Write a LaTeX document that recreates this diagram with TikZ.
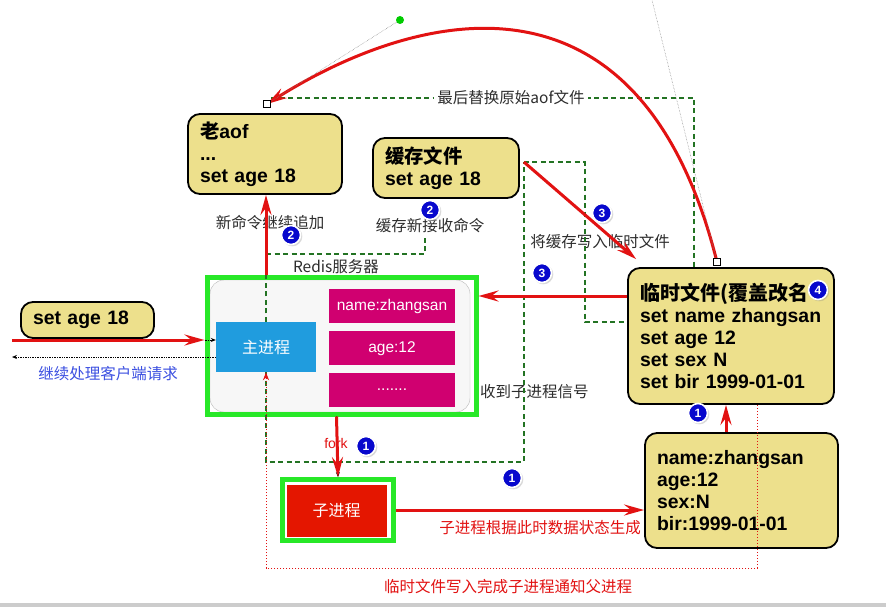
\documentclass[tikz,border=0pt]{standalone}
\usepackage{fontspec}
\setmainfont{Liberation Sans}
\newfontfamily\cjk{Noto Sans CJK SC}
\usepackage{tikz}
\usetikzlibrary{arrows.meta, positioning, shadows}

\definecolor{filekhaki}{RGB}{237,224,140}
\definecolor{framegreen}{RGB}{40,232,40}
\definecolor{dashgreen}{RGB}{35,115,35}
\definecolor{arrred}{RGB}{226,18,18}
\definecolor{procblue}{RGB}{32,156,222}
\definecolor{cellpink}{RGB}{208,0,112}
\definecolor{childred}{RGB}{228,22,0}
\definecolor{badgeblue}{RGB}{8,8,205}
\definecolor{notegray}{RGB}{45,45,45}
\definecolor{replyblue}{RGB}{60,80,225}

\newcommand{\zh}[1]{{\cjk #1}}

\begin{document}
\begin{tikzpicture}[x=1pt, y=-1pt,
  file/.style={
    rectangle, rounded corners=12pt, draw=black, line width=1.8pt, fill=filekhaki,
    align=left, inner xsep=12pt, inner ysep=4pt,
    font=\fontsize{19.4}{22}\selectfont\bfseries
  },
  server/.style={
    rectangle, rounded corners=14pt, draw=gray!55, fill=gray!6,
    minimum width=260pt, minimum height=132pt
  },
  frame/.style={rectangle, draw=framegreen, line width=5pt, inner sep=0pt},
  proc/.style={
    rectangle, fill=procblue, minimum width=100pt, minimum height=50pt,
    font=\cjk\fontsize{16}{16}\selectfont, text=white
  },
  cell/.style={
    rectangle, fill=cellpink, minimum width=126pt, minimum height=34pt,
    font=\fontsize{15.5}{16}\selectfont, text=white
  },
  child/.style={
    rectangle, fill=childred, draw=white, line width=0.8pt,
    minimum width=101pt, minimum height=53pt,
    font=\cjk\fontsize{16}{16}\selectfont, text=white
  },
  badge/.style={
    circle, fill=badgeblue, draw=white, line width=1.6pt, inner sep=0pt,
    minimum size=19pt, text=white, font=\fontsize{12}{12}\selectfont\bfseries,
    circular drop shadow={shadow xshift=1pt, shadow yshift=-1pt, opacity=0.35}
  },
  note/.style={font=\cjk\fontsize{15.5}{16}\selectfont, text=notegray, inner sep=1pt},
  rnote/.style={note, text=arrred},
  redarr/.style={-{Stealth[length=20pt,width=11pt,inset=7pt]}, line width=3pt, arrred},
  dotarr/.style={-{Stealth[length=5pt,width=4pt]}, densely dotted, line width=0.7pt, black},
  rdot/.style={-{Stealth[length=8pt,width=6pt]}, dash pattern=on 1.5pt off 1.5pt, line width=1pt, arrred},
  gdash/.style={dash pattern=on 5pt off 3.5pt, line width=1.4pt, dashgreen},
  handle/.style={densely dotted, gray, line width=0.5pt},
  handlebox/.style={rectangle, draw=black, fill=white, line width=0.6pt, minimum size=7pt, inner sep=0pt},
]
  \useasboundingbox (0,0) rectangle (886,607);
  \fill[white] (0,0) rectangle (886,607);
  \fill[gray!40] (0,603) rectangle (886,607);

  % Redis server
  \node[server] (server) at (340,346) {};
  \node[frame, minimum width=269pt, minimum height=137pt] (frame) at (341.5,345.5) {};
  \node[proc] (mainp) at (266,347) {主进程};
  \node[cell] (c1) at (392,306) {name:zhangsan};
  \node[cell, below=8pt of c1] (c2) {age:12};
  \node[cell, below=7pt of c2] (c3) {.......};

  % Files
  \node[file, text width=130pt, minimum height=80pt] (oldaof) at (265,154) {\zh{老}aof\\...\\set age 18};
  \node[file, text width=122pt, minimum height=60pt] (cache) at (446,168) {\zh{缓存文件}\\set age 18};
  \node[file, text width=188pt, inner xsep=9pt, minimum height=136pt] (temp) at (731,336)
    {\hspace*{3pt}{\cjk\fontsize{20}{22}\selectfont 临时文件(覆盖改名}\\\hspace*{3pt}set name zhangsan\\\hspace*{3pt}set age 12\\\hspace*{3pt}set sex N\\\hspace*{3pt}set bir 1999-01-01};
  \node[file, text width=169pt, minimum height=115pt] (data) at (741.5,490.5) {name:zhangsan\\age:12\\sex:N\\bir:1999-01-01};
  \node[file, text width=109pt, minimum height=36pt] (setage) at (87.5,320) {set age 18};

  % Child process
  \node[child] (child) at (336.5,510.5) {子进程};
  \node[frame, minimum width=111pt, minimum height=61pt] (childfr) at (338,510) {};

  % Labels
  \node[note] (applbl) at (270,223) {新命令继续追加};
  \node[note] (cachelbl) at (430,226) {缓存新接收命令};
  \node[note] (srvlbl) at (336,267) {Redis服务器};
  \node[note] (writelbl) at (600,242) {将缓存写入临时文件};
  \node[note, anchor=west] (siglbl) at (479,392) {收到子进程信号};
  \node[note, text=replyblue] (replylbl) at (108,374) {继续处理客户端请求};
  \node[rnote, font=\fontsize{14}{14}\selectfont] (forklbl) at (336,443) {fork};
  \node[rnote] (genlbl) at (540,528) {子进程根据此时数据状态生成};
  \node[rnote] (notelbl) at (508,587) {临时文件写入完成子进程通知父进程};

  % Client request and reply
  \coordinate (client) at (12,340);
  \coordinate (reply) at (12,357);
  \draw[redarr] (client) -- (client -| frame.west);
  \draw[dotarr] (client -| frame.west) -- (client -| mainp.west);
  \draw[dotarr] (reply -| mainp.west) -- (reply);

  % Append new commands
  \draw[gdash] (mainp.north) -- ++(0,-68) -| ([xshift=-5pt]cachelbl.south);
  \draw[redarr] (frame.north -| mainp) -- (oldaof.south -| mainp);

  % Cache into temp file
  \coordinate (cacheout) at ([xshift=4pt,yshift=6pt]cache.east);
  \draw[gdash] (cacheout) -- ++(61,0) |- ([yshift=14pt]temp.west);
  \draw[gdash] (mainp.south) -- (mainp.south |- 0,462) -| (cacheout);
  \draw[redarr] (cacheout) -- ([xshift=9pt,yshift=8pt]temp.north west);
  \draw[redarr] ([yshift=40pt]temp.west) -- ([yshift=40pt]temp.west -| frame.east);

  % Fork and rewrite
  \draw[dotarr] (frame.south -| child) -- (childfr.north);
  \draw[redarr] (frame.south -| child) -- (childfr.north);
  \draw[redarr] (childfr.east) -- (childfr.east -| data.west);
  \draw[redarr] (data.north -| 726,0) -- (temp.south -| 726,0);

  % Child notifies parent
  \draw[rdot] (temp.south -| 757,0) -- (757,568) -| (mainp.south);

  % Replace old aof
  \draw[gdash] ([xshift=6pt]oldaof.north |- 0,98) -| (temp.north -| 694,0);
  \node[note, fill=white, inner xsep=3pt] (replbl) at (511,98) {最后替换原始aof文件};
  \coordinate (hA) at (717,262);
  \coordinate (hB) at (267,104);
  \coordinate (ctlA) at (652,0);
  \coordinate (ctlB) at (400,20);
  \draw[redarr] (hA) .. controls (636,-60) and (ctlB) .. (hB);
  \draw[handle] (hA) -- (ctlA);
  \draw[handle] (hB) -- (ctlB);
  \fill[green!80!black] (ctlB) circle (4pt);
  \node[handlebox] at (hA) {};
  \node[handlebox] at (hB) {};

  % Steps
  \node[badge] at (291,235) {2};
  \node[badge] at (430,210) {2};
  \node[badge] at (602,213) {3};
  \node[badge] at (542,273) {3};
  \node[badge] at (818,290) {4};
  \node[badge] at (698,413) {1};
  \node[badge] at (366,446) {1};
  \node[badge] at (512,478) {1};
\end{tikzpicture}
\end{document}
